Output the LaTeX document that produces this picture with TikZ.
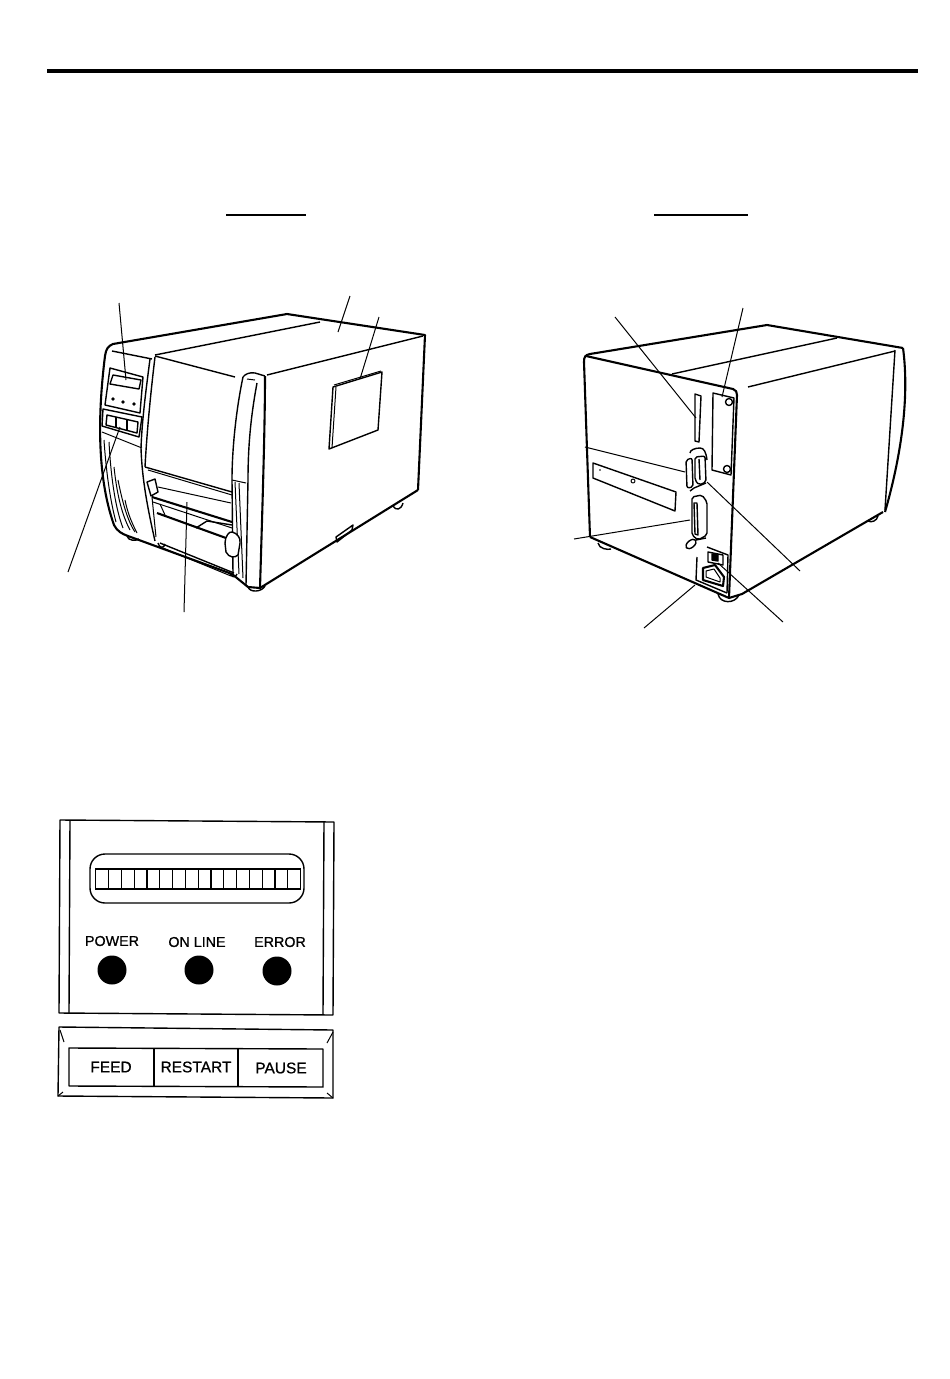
\documentclass[tikz,border=0pt]{standalone}
\usepackage{fontspec}
\newfontfamily\panelfont[FakeBold=0.8]{Liberation Sans}
\tikzset{
  heavy/.style={line width=2.1pt,line join=round},
  body/.style={line width=1.4pt,line join=round},
  fine/.style={line width=1pt,line join=round},
  leader/.style={line width=1pt},
  ledlabel/.style={font=\panelfont\fontsize{14.3}{15}\selectfont,inner sep=0pt},
  keylabel/.style={font=\panelfont\fontsize{15.5}{16}\selectfont,inner sep=0pt},
  leddot/.style={circle,fill=black,inner sep=0pt,minimum size=29pt},
  cell/.style={draw,line width=1.1pt,minimum width=12.8pt,minimum height=20pt,inner sep=0pt}
}
\begin{document}
\begin{tikzpicture}[x=1pt,y=-1pt]
\useasboundingbox (0,0) rectangle (950,1379);
%page rule
\draw[line width=4pt] (47,71) -- (918,71);
\draw[line width=1.2pt] (226,215) -- (306,215);
\draw[line width=1.2pt] (654,215) -- (748,215);
%FRONT PRINTER
	%shell
	\draw[heavy] (105,356) .. controls (106,349) and (108,346) .. (113,344) -- (287,314) -- (425,335) -- (418,490);
	\draw[heavy] (105,356) .. controls (97,420) and (98,480) .. (114,525) .. controls (117,531) and (122,534) .. (128,536) -- (232,574) -- (248,587) -- (260,588) -- (418,490);
	\draw[body] (155,355) -- (320,322);
	\draw[body] (155,356) -- (235,377);
	\draw[body] (267,375) -- (423,336);
	\draw[body] (112,351) -- (152,359);
	\draw[body] (150,359) .. controls (146,390) and (142,420) .. (141,448) .. controls (142,480) and (148,510) .. (155,541);
	\draw[body] (155,357) .. controls (151,390) and (147,430) .. (145,467);
	%pillar
	\draw[body] (243,377) .. controls (245,374) and (250,372) .. (255,373) -- (265,376);
	\draw[body] (243,377) .. controls (236,410) and (232,450) .. (232,480) -- (233,574);
	\draw[heavy] (265,376) .. controls (265,430) and (262,520) .. (260,588);
	\draw[body] (257,383) .. controls (252,410) and (248,440) .. (248,480) -- (246,585);
	\draw[fine] (247,379) -- (255,380);
	\draw[fine] (232,480) -- (246,483);
	\draw[fine] (235,482) -- (239,574);
	\draw[fine] (239,483) -- (243,578);
	%sticker
	\draw[body] (333,387) -- (382,372) -- (378,430) -- (329,449) -- cycle;
	\draw[fine] (334,385) -- (381,371);
	\draw[fine] (336,387) -- (332,448);
	%slot and feet
	\draw[body] (336,537) -- (353,525) -- (352,530) -- (337,542) -- cycle;
	\draw[body] (393,506) .. controls (396,511) and (401,510) .. (403,503);
	\draw[body] (127,536) .. controls (128,541) and (136,541) .. (139,539);
	\draw[body] (248,587) .. controls (250,593) and (262,592) .. (265,586);
	\draw[body] (158,543) .. controls (159,548) and (164,549) .. (165,544);
	\draw[body] (229,572) .. controls (231,578) and (236,578) .. (237,574);
	%display panel
	\draw[body] (110,368) -- (143,377) -- (140,413) -- (105,405) -- cycle;
	\draw[body] (113,375) -- (141,380) -- (139,389) -- (110,384) -- cycle;
	\foreach \x/\y in {113/399,123/402,134/404}
		\fill (\x,\y) circle [radius=1.8];
	%key panel
	\draw[body] (103,409) -- (142,417) -- (139,437) -- (102,426) -- cycle;
	\draw[body] (107,415) -- (138,422) -- (137,433) -- (106,425) -- cycle;
	\draw[body] (116,417) -- (116,427);
	\draw[body] (127,419) -- (127,430);
	\draw[fine] (102,432) -- (142,448);
	%vents
	\draw[fine] (104,440) .. controls (106,470) and (110,500) .. (116,522);
	\draw[fine] (109,442) .. controls (111,480) and (116,510) .. (123,528);
	\draw[fine] (114,467) .. controls (117,495) and (122,515) .. (130,530);
	\draw[fine] (118,480) .. controls (122,500) and (127,520) .. (135,532);
	\draw[fine] (125,500) .. controls (128,515) and (133,525) .. (137,533);
	%media opening
	\draw[body] (145,467) -- (232,492);
	\draw[fine] (148,470) -- (232,495);
	\draw[fine] (158,487) -- (231,503);
	\draw[heavy] (152,497) -- (232,522);
	\draw[fine] (153,502) -- (232,528);
	\draw[heavy] (157,513) -- (226,538);
	\draw[body] (196,528) -- (207,521) -- (232,525);
	\draw[fine] (152,497) -- (156,537);
	\draw[fine] (160,504) -- (165,515);
	\draw[body] (147,482) -- (155,479) -- (158,492) -- (151,496) -- cycle;
	\draw[body] (160,543) -- (234,573);
	\draw[fine] (163,548) -- (231,576);
	%knob
	\draw[body,fill=white] (225,543) .. controls (225,537) and (229,531) .. (232,532) .. controls (237,533) and (241,538) .. (240,543) -- (238,555) .. controls (235,558) and (229,558) .. (226,552) -- cycle;
	%leaders
	\draw[leader] (119,303) -- (126,380);
	\draw[leader] (350,296) -- (338,332);
	\draw[leader] (379,317) -- (360,379);
	\draw[leader] (68,572) -- (120,427);
	\draw[leader] (184,612) -- (187,502);
%REAR PRINTER
	%shell
	\draw[heavy] (584,362) .. controls (584,357) and (585,355) .. (590,354) -- (767,325) -- (903,348);
	\draw[heavy] (584,362) -- (590,537);
	\draw[heavy] (586,356) -- (733,389) .. controls (736,390) and (737,392) .. (737,395) -- (729,598);
	\draw[heavy] (590,537) -- (729,598) -- (742,594) -- (883,512);
	\draw[heavy] (903,348) .. controls (910,400) and (900,460) .. (885,512);
	\draw[body] (895,350) -- (885,510);
	\draw[body] (672,374) -- (837,338);
	\draw[body] (748,387) -- (895,351);
	%feet
	\draw[body] (598,543) .. controls (599,549) and (608,550) .. (611,549);
	\draw[body] (718,594) .. controls (720,604) and (735,604) .. (739,595);
	\draw[body] (868,521) .. controls (871,523) and (877,521) .. (878,516);
	%slot and plates
	\draw[body] (695,394) -- (701,396) -- (699,442) -- (695,441) -- cycle;
	\draw[body] (713,393) -- (734,398) -- (731,475) -- (712,470) -- cycle;
	\draw[body] (729,402) circle [radius=3.5];
	\draw[body] (727,469) circle [radius=3.5];
	\draw[body] (593,463) -- (676,492) -- (675,511) -- (593,478) -- cycle;
	\draw[fine] (633,481) circle [radius=2];
	\fill (600,470) circle [radius=0.8];
	%upper connector
	\draw[body,rounded corners=2pt] (686,460) -- (692,458) -- (693,487) -- (687,488) -- cycle;
	\draw[body,rounded corners=2pt] (695,457) -- (705,456) -- (706,482) -- (699,485) -- (695,480) -- cycle;
	\draw[body] (699,459) -- (700,480);
	\draw[body] (690,453) .. controls (690,450) and (695,448) .. (700,448) .. controls (704,448) and (706,452) .. (707,460);
	\draw[body] (690,491) -- (694,488) -- (706,483);
	%lower connector
	\draw[body,rounded corners=2pt] (692,497) -- (702,495) -- (707,502) -- (707,535) -- (698,540) -- (692,535) -- cycle;
	\draw[body] (694,503) -- (697,503) -- (698,535) -- (695,534) -- cycle;
	\draw[body,rotate around={40:(691,544)}] (691,544) ellipse [x radius=6,y radius=3.5];
	\draw[body] (696,540) -- (706,538);
	%power inlet
	\draw[body] (707,547) -- (728,555) -- (727,593);
	\draw[body] (708,552) -- (723,555) -- (723,565) -- (708,562) -- cycle;
	\draw[body,fill=black] (712,554) -- (718,555) -- (718,561) -- (712,560) -- cycle;
	\draw[body] (697,557) -- (696,580) -- (727,593);
	\draw[heavy] (703,568) -- (715,565) -- (724,577) -- (723,586) -- (703,580) -- cycle;
	\draw[fine] (706,571) -- (714,569) -- (720,578) -- (720,582) -- (706,577) -- cycle;
	%leaders
	\draw[leader] (615,317) -- (696,418);
	\draw[leader] (743,308) -- (722,397);
	\draw[leader] (585,447) -- (685,472);
	\draw[leader] (800,571) -- (707,482);
	\draw[leader] (574,539) -- (690,520);
	\draw[leader] (644,628) -- (695,585);
	\draw[leader] (783,622) -- (718,563);
%LED PANEL
	\draw[body] (60,820) -- (334,822) -- (333,1015) -- (59,1013) -- cycle;
	\draw[body] (70,821) -- (69,1013);
	\draw[body] (324,822) -- (323,1014);
	\draw[body,rounded corners=15pt] (90,854) rectangle (304,903);
	\foreach \i in {0,...,15}
		\node[cell,anchor=west] (cell\i) at (95.2+12.8*\i,879) {};
	\node[leddot] (power) at (112,970) {};
	\node[leddot] (online) at (199,970) {};
	\node[leddot] (error) at (277,971) {};
	\node[ledlabel] (powerlabel) at (112,941) {POWER};
	\node[ledlabel] (onlinelabel) at (197,942) {ON LINE};
	\node[ledlabel] (errorlabel) at (280,942) {ERROR};
%KEY PANEL
	\draw[body] (59,1027) -- (333,1030) -- (333,1098) -- (58,1096) -- cycle;
	\draw[body] (69,1048) -- (323,1049) -- (323,1087) -- (69,1086) -- cycle;
	\draw[body] (154,1048) -- (154,1086);
	\draw[body] (238,1049) -- (238,1087);
	\draw[fine] (60,1030) -- (64,1042);
	\draw[fine] (333,1032) -- (327,1043);
	\draw[fine] (58,1096) -- (63,1092);
	\draw[fine] (333,1098) -- (327,1093);
	\node[keylabel] (feed) at (111,1067) {FEED};
	\node[keylabel] (restart) at (196,1067) {RESTART};
	\node[keylabel] (pause) at (281,1068) {PAUSE};
\end{tikzpicture}
\end{document}
